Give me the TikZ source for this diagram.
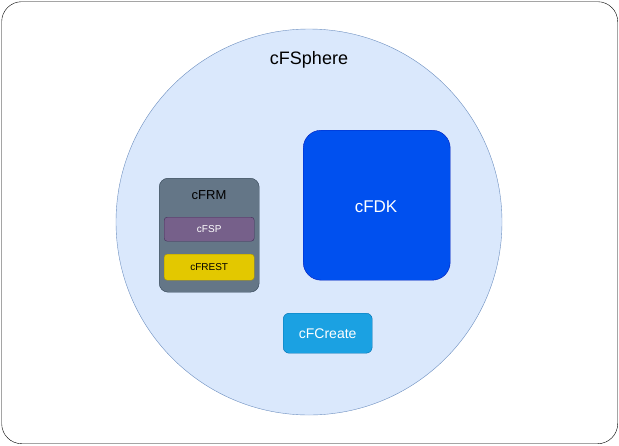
\documentclass[tikz,border=0pt]{standalone}
\usepackage{fontspec}
\setmainfont{Liberation Sans}
\definecolor{sphf}{HTML}{DAE8FC}\definecolor{sphd}{HTML}{6C8EBF}
\definecolor{rmf}{HTML}{647687}\definecolor{rmd}{HTML}{314354}
\definecolor{spf}{HTML}{76608A}\definecolor{spd}{HTML}{432D57}
\definecolor{ref}{HTML}{E3C800}\definecolor{red}{HTML}{B09500}
\definecolor{dkf}{HTML}{0050EF}\definecolor{dkd}{HTML}{001DBC}
\definecolor{crf}{HTML}{1BA1E2}\definecolor{crd}{HTML}{006EAF}
\begin{document}
\begin{tikzpicture}[x=1pt,y=-1pt,
 box/.style={draw,rounded corners=#1,inner sep=0pt,anchor=north west}]
\useasboundingbox (0,0) rectangle (619,445);
\node[box=20pt,draw=black,minimum width=616pt,minimum height=442pt] (frame) at (1.5,1.5) {};
\node[circle,draw=sphd,fill=sphf,minimum size=386pt,inner sep=0pt] (sphere) at (309,222) {};
\node[font=\fontsize{18}{20}\selectfont] (t) at (309,60) {cFSphere};
\node[box=9pt,draw=rmd,fill=rmf,minimum width=100pt,minimum height=114pt] (frm) at (159,178) {};
\node[font=\fontsize{13}{15}\selectfont] (frmt) at (209,195) {cFRM};
\node[box=3pt,draw=spd,fill=spf,minimum width=90pt,minimum height=24pt,text=white,font=\fontsize{10}{12}\selectfont] (fsp) at (164,217) {};
\node[text=white,font=\fontsize{10}{12}\selectfont] at (fsp.center) {cFSP};
\node[box=3pt,draw=red,fill=ref,minimum width=90pt,minimum height=26pt] (frest) at (164,254) {};
\node[font=\fontsize{10}{12}\selectfont] at (frest.center) {cFREST};
\node[box=18pt,draw=dkd,fill=dkf,minimum width=147pt,minimum height=150pt] (fdk) at (303,130) {};
\node[text=white,font=\fontsize{17}{19}\selectfont] at (376,207) {cFDK};
\node[box=6pt,draw=crd,fill=crf,minimum width=89pt,minimum height=40pt] (cr) at (283,313) {};
\node[text=white,font=\fontsize{14}{16}\selectfont] at (cr.center) {cFCreate};
\end{tikzpicture}
\end{document}
